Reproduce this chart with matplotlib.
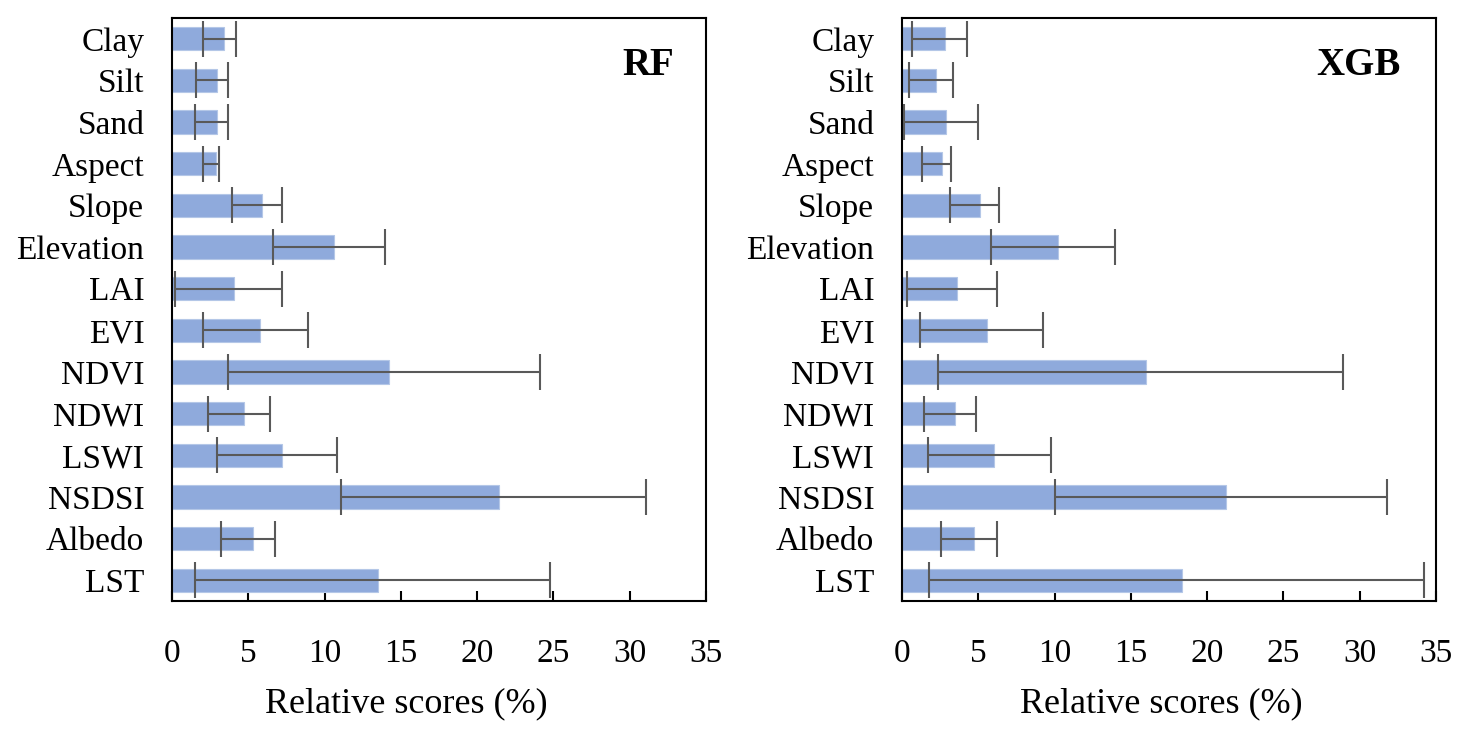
import numpy as np
import matplotlib.pyplot as plt

plt.rcParams["font.family"] = ["Liberation Serif", "DejaVu Serif"]

features = ["Clay", "Silt", "Sand", "Aspect", "Slope", "Elevation", "LAI",
            "EVI", "NDVI", "NDWI", "LSWI", "NSDSI", "Albedo", "LST"]

rf_mean = [3.42, 2.98, 2.94, 2.87, 5.92, 10.62, 4.04,
           5.79, 14.24, 4.74, 7.20, 21.45, 5.33, 13.51]
rf_low = [2.00, 1.60, 1.51, 2.02, 3.95, 6.63, 0.22,
          2.02, 3.66, 2.39, 2.94, 11.10, 3.18, 1.54]
rf_high = [4.19, 3.64, 3.68, 3.07, 7.22, 13.95, 7.20,
           8.91, 24.13, 6.45, 10.79, 31.10, 6.78, 24.76]

xgb_mean = [2.79, 2.24, 2.86, 2.59, 5.09, 10.22, 3.62,
            5.55, 15.99, 3.45, 6.05, 21.23, 4.70, 18.32]
xgb_low = [0.68, 0.44, 0.11, 1.30, 3.14, 5.81, 0.31,
           1.21, 2.35, 1.43, 1.69, 10.03, 2.53, 1.76]
xgb_high = [4.26, 3.31, 4.98, 3.22, 6.38, 13.95, 6.25,
            9.21, 28.90, 4.85, 9.74, 31.78, 6.23, 34.19]

xticks = [0, 5, 10, 15, 20, 25, 30, 35]


def draw_panel(ax, mean, low, high, title, title_x):
    y = np.arange(len(features))
    mean = np.array(mean)
    err = [mean - np.array(low), np.array(high) - mean]
    ax.barh(y, mean, height=0.56, color="#8FAADC", edgecolor="#B4C7E7",
            linewidth=0.8, zorder=2)
    ax.errorbar(mean, y, xerr=err, fmt="none", ecolor="#595959",
                elinewidth=1.5, capsize=13, capthick=1.5, zorder=3)
    ax.set_ylim(len(features) - 0.5, -0.5)
    ax.set_xlim(0, 35)
    ax.set_xticks(xticks)
    ax.set_yticks(y)
    ax.set_yticklabels(features)
    ax.tick_params(axis="x", direction="in", length=7, width=1.5,
                   labelsize=24, pad=27)
    ax.tick_params(axis="y", length=0, labelsize=24, pad=20)
    for s in ax.spines.values():
        s.set_linewidth(1.5)
    ax.text(title_x, 0.919, title, transform=ax.transAxes, ha="right",
            va="center", fontsize=28, fontweight="bold")


fig = plt.figure(figsize=(14.7, 7.31), dpi=100)
ax1 = fig.add_axes([172 / 1470, 1 - 601 / 731, 534 / 1470, 583 / 731])
ax2 = fig.add_axes([902 / 1470, 1 - 601 / 731, 534 / 1470, 583 / 731])

draw_panel(ax1, rf_mean, rf_low, rf_high, "RF", 0.94)
draw_panel(ax2, xgb_mean, xgb_low, xgb_high, "XGB", 0.933)

fig.text(406 / 1470, 1 - 704 / 731, "Relative scores (%)", ha="center",
         va="center", fontsize=26)
fig.text(1161 / 1470, 1 - 704 / 731, "Relative scores (%)", ha="center",
         va="center", fontsize=26)

fig.savefig("out.png", dpi=100)
